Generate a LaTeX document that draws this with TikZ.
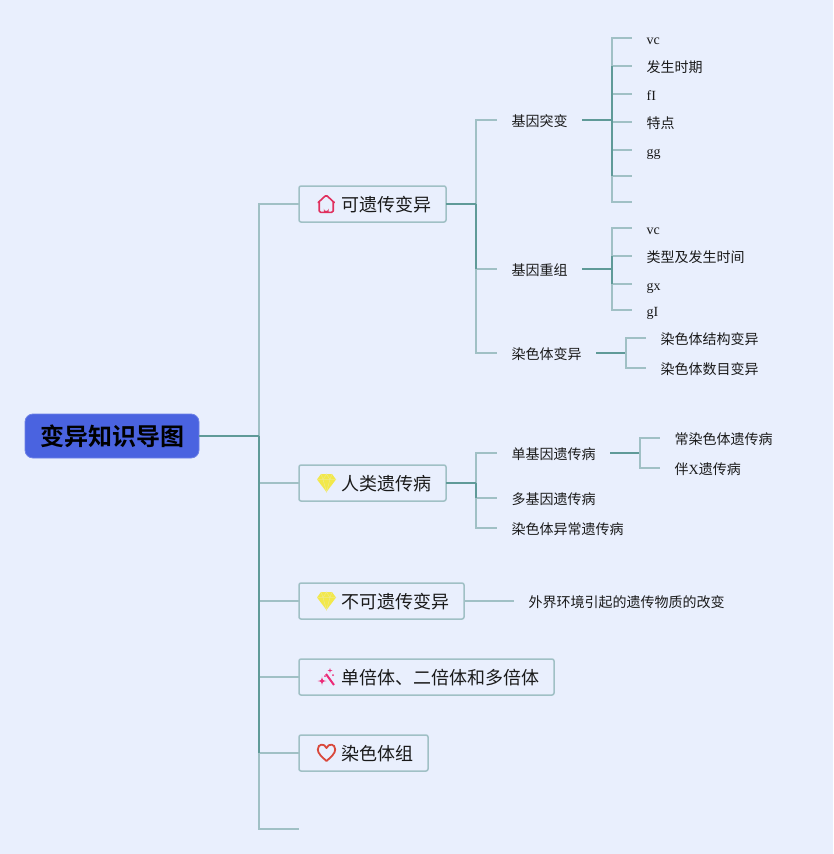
\documentclass[tikz,border=0pt]{standalone}
\usepackage{fontspec}
\setmainfont{Liberation Serif}
\newfontfamily\cjk{Noto Sans CJK SC}
\newfontfamily\cjkb{Noto Sans CJK SC Bold}
\definecolor{bgc}{HTML}{E9EFFD}
\definecolor{lite}{HTML}{A0C0C5}
\definecolor{dark}{HTML}{5F9A98}
\definecolor{rootc}{HTML}{4A63E0}
\definecolor{ink}{HTML}{1A1A1A}
\definecolor{housec}{HTML}{E0305E}
\definecolor{gemc}{HTML}{F2E84A}
\definecolor{wandc}{HTML}{EC2A78}
\definecolor{heartc}{HTML}{D9483B}
\tikzset{
  rootbox/.style={draw=rootc!80!white,fill=rootc,rounded corners=8pt,line width=.8pt,outer sep=0pt,anchor=north west,minimum width=174pt,minimum height=44pt,inner sep=0pt,text=black,font=\cjkb\fontsize{24}{24}\selectfont},
  topic/.style={draw=lite,fill=bgc,rounded corners=2pt,line width=1.5pt,outer sep=0pt,anchor=north west,minimum height=36pt,inner sep=0pt,text=ink,font=\cjk\fontsize{18}{18}\selectfont,text height=16pt,text depth=2pt},
  leaf/.style={anchor=west,inner xsep=14.5pt,inner ysep=0pt,text=ink,font=\fontsize{14}{14}\selectfont,text height=13pt,text depth=1pt},
  lt/.style={draw=lite,line width=1.4pt},
  dk/.style={draw=dark,line width=1.6pt},
}
\newcommand{\zh}[1]{{\cjk #1}}
\newcommand{\gem}[2]{%
  \begin{scope}[shift={(#1,#2)}]
    \fill[gemc] (-5.5,-9) -- (5.5,-9) -- (9.5,-3.5) -- (0,9) -- (-9.5,-3.5) -- cycle;
    \draw[bgc!35!gemc,line width=.5pt] (-9.5,-3.5) -- (9.5,-3.5) (-3.5,-3.5) -- (0,9) -- (3.5,-3.5) (-5.5,-9) -- (-3.5,-3.5) -- (0,-9) -- (3.5,-3.5) -- (5.5,-9);
  \end{scope}}
\begin{document}
\begin{tikzpicture}[x=1pt,y=-1pt]
\useasboundingbox (0,0) rectangle (833,854);
\fill[bgc] (0,0) rectangle (833,854);

% nodes
\node[rootbox] (root) at (25,414) {变异知识导图};
\node[topic,minimum width=147pt] (t1) at (299,186) {\hspace*{42pt}可遗传变异\hspace*{15pt}};
\node[topic,minimum width=147pt] (t2) at (299,465) {\hspace*{42pt}人类遗传病\hspace*{15pt}};
\node[topic,minimum width=165pt] (t3) at (299,583) {\hspace*{42pt}不可遗传变异\hspace*{15pt}};
\node[topic,minimum width=255pt] (t4) at (299,659) {\hspace*{42pt}单倍体、二倍体和多倍体\hspace*{15pt}};
\node[topic,minimum width=129pt] (t5) at (299,735) {\hspace*{42pt}染色体组\hspace*{15pt}};
\coordinate (t6) at (299,829);

\node[leaf] (a) at (497,120) {\zh{基因突变}};
\node[leaf] (b) at (497,269) {\zh{基因重组}};
\node[leaf] (c) at (497,353) {\zh{染色体变异}};
\node[leaf] (d) at (497,453) {\zh{单基因遗传病}};
\node[leaf] (e) at (497,498) {\zh{多基因遗传病}};
\node[leaf] (f) at (497,528) {\zh{染色体异常遗传病}};
\node[leaf] (g) at (514,601) {\zh{外界环境引起的遗传物质的改变}};

\node[leaf] (a1) at (632,38) {vc};
\node[leaf] (a2) at (632,66) {\zh{发生时期}};
\node[leaf] (a3) at (632,94) {fI};
\node[leaf] (a4) at (632,122) {\zh{特点}};
\node[leaf] (a5) at (632,150) {gg};
\coordinate (a6) at (632,176);
\coordinate (a7) at (632,202);

\node[leaf] (b1) at (632,228) {vc};
\node[leaf] (b2) at (632,256) {\zh{类型及发生时间}};
\node[leaf] (b3) at (632,284) {gx};
\node[leaf] (b4) at (632,310) {gI};

\node[leaf] (c1) at (646,338) {\zh{染色体结构变异}};
\node[leaf] (c2) at (646,368) {\zh{染色体数目变异}};

\node[leaf] (d1) at (660,438) {\zh{常染色体遗传病}};
\node[leaf] (d2) at (660,468) {\zh{伴}X\zh{遗传病}};

% level 1
\coordinate (bus0) at (259,436);
\draw[lt] (bus0) -- (259,204) -- (t1.west);
\draw[lt] (259,483) -- (t2.west);
\draw[lt] (259,601) -- (t3.west);
\draw[lt] (259,677) -- (t4.west);
\draw[lt] (259,753) -- (t5.west);
\draw[lt] (259,753) -- (259,829) -- (t6);
\draw[dk] (259,436) -- (259,753);
\draw[dk] (root.east) -- (bus0);

% level 2, group 1
\draw[lt] (476,204) -- (476,120) -- (a.west);
\draw[lt] (476,269) -- (476,353) -- (c.west);
\draw[lt] (476,269) -- (b.west);
\draw[dk] (476,204) -- (476,269);
\draw[dk] (t1.east) -- (476,204);
% leaves a
\draw[dk] (a.east) -- (612,120);
\draw[lt] (612,66) -- (612,38) -- (a1.west);
\draw[lt] (612,66) -- (a2.west);
\draw[lt] (612,94) -- (a3.west);
\draw[lt] (612,122) -- (a4.west);
\draw[lt] (612,150) -- (a5.west);
\draw[lt] (612,176) -- (a6);
\draw[lt] (612,176) -- (612,202) -- (a7);
\draw[dk] (612,66) -- (612,176);
% leaves b
\draw[dk] (b.east) -- (612,269);
\draw[lt] (612,256) -- (612,228) -- (b1.west);
\draw[lt] (612,256) -- (b2.west);
\draw[lt] (612,284) -- (b3.west);
\draw[lt] (612,284) -- (612,310) -- (b4.west);
\draw[dk] (612,256) -- (612,284);
% leaves c
\draw[dk] (c.east) -- (626,353);
\draw[lt] (626,353) -- (626,338) -- (c1.west);
\draw[lt] (626,353) -- (626,368) -- (c2.west);

% group 2
\draw[lt] (476,483) -- (476,453) -- (d.west);
\draw[lt] (476,498) -- (476,528) -- (f.west);
\draw[lt] (476,498) -- (e.west);
\draw[dk] (476,483) -- (476,498);
\draw[dk] (t2.east) -- (476,483);
\draw[dk] (d.east) -- (640,453);
\draw[lt] (640,453) -- (640,438) -- (d1.west);
\draw[lt] (640,453) -- (640,468) -- (d2.west);

\draw[lt] (t3.east) -- (g.west);

% icons
\begin{scope}[shift={(326.2,204)}]
  \draw[housec,line width=1.6pt,line join=round,line cap=round] (-8,-1.5) -- (-1,-8) .. controls (-.4,-8.5) and (.4,-8.5) .. (1,-8) -- (8,-1.5);
  \draw[housec,line width=1.6pt,line join=round] (-7,-2.5) -- (-7,7) .. controls (-7,8) and (-6,8.3) .. (-5.5,8.3) -- (5.5,8.3) .. controls (6,8.3) and (7,8) .. (7,7) -- (7,-2.5);
  \fill[housec] (-2.4,8.5) -- (-2.4,4.6) arc[start angle=180,end angle=0,radius=2.4] -- (2.4,8.5) -- cycle;
\end{scope}
\gem{326.5}{483}
\gem{326.5}{601}
\begin{scope}[shift={(326,677)}]
  \draw[wandc,line width=2pt] (0,-3) -- (8,8);
  \fill[wandc] (-4,-.5) .. controls (-3.6,3) and (-3.4,3.4) .. (0.5,4) .. controls (-3.4,4.6) and (-3.6,5) .. (-4,8.5) .. controls (-4.4,5) and (-4.6,4.6) .. (-8.5,4) .. controls (-4.6,3.4) and (-4.4,3) .. (-4,-.5) -- cycle;
  \fill[wandc] (4,-9) .. controls (4.2,-7) and (4.4,-6.8) .. (6.5,-6.5) .. controls (4.4,-6.2) and (4.2,-6) .. (4,-4) .. controls (3.8,-6) and (3.6,-6.2) .. (1.5,-6.5) .. controls (3.6,-6.8) and (3.8,-7) .. (4,-9) -- cycle;
  \fill[wandc] (-1,-1) circle[radius=1];
  \fill[wandc] (7,-2) circle[radius=1];
\end{scope}
\draw[heartc,line width=1.8pt,line join=round] (326.5,761) .. controls (322,757) and (317.8,753.5) .. (317.8,749.5) .. controls (317.8,743.5) and (324.5,743) .. (326.5,748) .. controls (328.5,743) and (335.2,743.5) .. (335.2,749.5) .. controls (335.2,753.5) and (331,757) .. (326.5,761) -- cycle;
\end{tikzpicture}
\end{document}
